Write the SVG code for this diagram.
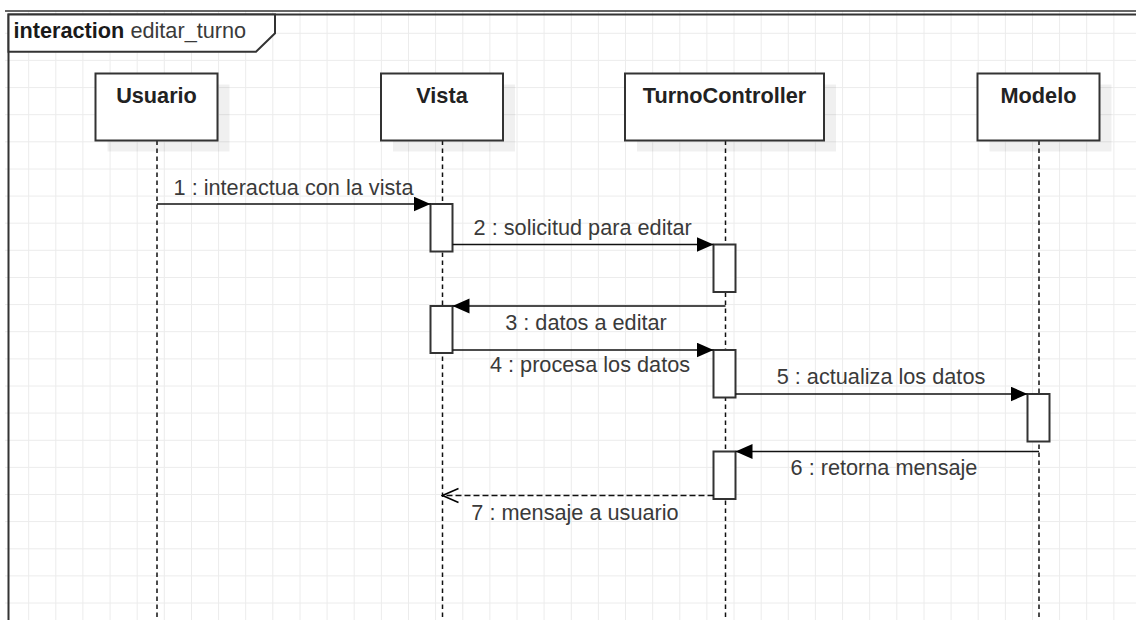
<svg xmlns="http://www.w3.org/2000/svg" width="1136" height="620" viewBox="0 0 1136 620">
<defs>
<style>
.grid{stroke:#ececec;stroke-width:1;fill:none}
.box{fill:#fff;stroke:#333;stroke-width:2}
.shadow{fill:#000;opacity:0.06}
.act{fill:#fff;stroke:#333;stroke-width:2}
.life{stroke:#111;stroke-width:1.5;stroke-dasharray:4.5 3.5;fill:none}
.msg{stroke:#111;stroke-width:1.5;fill:none}
.ret{stroke:#111;stroke-width:1.5;fill:none;stroke-dasharray:6 3}
.nl{font-family:"Liberation Sans",Arial,sans-serif;font-size:21.7px;font-weight:bold;fill:#222;text-anchor:middle}
.ml{font-family:"Liberation Sans",Arial,sans-serif;font-size:21.7px;fill:#3a3a3a;text-anchor:middle}
.fl{font-family:"Liberation Sans",Arial,sans-serif;font-size:21.7px;fill:#3a3a3a}
</style>
<marker id="fill" markerUnits="userSpaceOnUse" markerWidth="18" markerHeight="16" refX="17" refY="7.5" orient="auto">
<path d="M0,0 L17,7.5 L0,15 z" fill="#000"/>
</marker>
<marker id="open" markerUnits="userSpaceOnUse" markerWidth="19" markerHeight="18" refX="17" refY="8" orient="auto">
<path d="M1,1 L17,8 L1,15" fill="none" stroke="#000" stroke-width="1.5"/>
</marker>
<clipPath id="gclip"><rect x="5" y="11" width="1131" height="609"/></clipPath>
</defs>
<rect width="1136" height="620" fill="#fff"/>
<g id="grid" clip-path="url(#gclip)">
<path class="grid" d="M1.5,0V620M28.7,0V620M55.8,0V620M82.9,0V620M110.1,0V620M137.2,0V620M164.3,0V620M191.5,0V620M218.6,0V620M245.7,0V620M272.8,0V620M300,0V620M327.1,0V620M354.2,0V620M381.4,0V620M408.5,0V620M435.6,0V620M462.8,0V620M489.9,0V620M517,0V620M544.1,0V620M571.3,0V620M598.4,0V620M625.5,0V620M652.7,0V620M679.8,0V620M706.9,0V620M734,0V620M761.2,0V620M788.3,0V620M815.4,0V620M842.6,0V620M869.7,0V620M896.8,0V620M924,0V620M951.1,0V620M978.2,0V620M1005.4,0V620M1032.5,0V620M1059.6,0V620M1086.7,0V620M1113.9,0V620"/>
<path class="grid" d="M0,33.3H1136M0,60.4H1136M0,87.6H1136M0,114.7H1136M0,141.8H1136M0,169H1136M0,196.1H1136M0,223.2H1136M0,250.3H1136M0,277.5H1136M0,304.6H1136M0,331.7H1136M0,358.9H1136M0,386H1136M0,413.1H1136M0,440.3H1136M0,467.4H1136M0,494.5H1136M0,521.6H1136M0,548.8H1136M0,575.9H1136M0,603H1136"/>
</g>
<g id="frame">
<path d="M5,11H1136" stroke="#333" stroke-width="1.3" fill="none"/>
<path d="M8.5,620V14.5H1136" stroke="#333" stroke-width="2" fill="none"/>
<path d="M8.5,14.5H275V33.3L256,51.7H8.5z" fill="#fff" stroke="#333" stroke-width="2"/>
<text class="fl" x="13.5" y="37.5"><tspan font-weight="bold" fill="#1a1a1a">interaction</tspan> editar_turno</text>
</g>
<g id="lifelines">
<path class="life" d="M157,140.5V620"/>
<path class="life" d="M442.5,140.5V620"/>
<path class="life" d="M725.5,140.5V620"/>
<path class="life" d="M1039,140.5V620"/>
</g>
<g id="node-usuario">
<rect class="shadow" x="107.5" y="84.5" width="122" height="67"/>
<rect class="box" x="95.5" y="73.5" width="122" height="67"/>
<text class="nl" x="156.5" y="102.5">Usuario</text>
</g>
<g id="node-vista">
<rect class="shadow" x="393" y="84.5" width="122" height="67"/>
<rect class="box" x="381" y="73.5" width="122" height="67"/>
<text class="nl" x="442" y="102.5">Vista</text>
</g>
<g id="node-turnocontroller">
<rect class="shadow" x="637" y="84.5" width="199" height="67"/>
<rect class="box" x="625" y="73.5" width="199" height="67"/>
<text class="nl" x="724.5" y="102.5">TurnoController</text>
</g>
<g id="node-modelo">
<rect class="shadow" x="989.5" y="84.5" width="122" height="67"/>
<rect class="box" x="977.5" y="73.5" width="122" height="67"/>
<text class="nl" x="1038.5" y="102.5">Modelo</text>
</g>
<g id="activations">
<rect class="act" x="430.5" y="204" width="22" height="47.5"/>
<rect class="act" x="713.5" y="244.5" width="22" height="47.5"/>
<rect class="act" x="430.5" y="306" width="22" height="47"/>
<rect class="act" x="713.5" y="350" width="22" height="47.5"/>
<rect class="act" x="1027.5" y="394" width="22" height="47.5"/>
<rect class="act" x="713.5" y="451.5" width="22" height="47.5"/>
</g>
<g id="connectors">
<path class="msg" d="M157,204H430.5" marker-end="url(#fill)"/>
<path class="msg" d="M452.5,244.5H713.5" marker-end="url(#fill)"/>
<path class="msg" d="M725.5,306H452.5" marker-end="url(#fill)"/>
<path class="msg" d="M452.5,350H713.5" marker-end="url(#fill)"/>
<path class="msg" d="M735.5,394H1027.5" marker-end="url(#fill)"/>
<path class="msg" d="M1039,451.5H735.5" marker-end="url(#fill)"/>
<path class="ret" d="M713.5,495.5H442.5" marker-end="url(#open)"/>
<text class="ml" x="293.5" y="195">1 : interactua con la vista</text>
<text class="ml" x="582.7" y="235">2 : solicitud para editar</text>
<text class="ml" x="586" y="330">3 : datos a editar</text>
<text class="ml" x="590" y="371.5">4 : procesa los datos</text>
<text class="ml" x="881" y="384">5 : actualiza los datos</text>
<text class="ml" x="884" y="475">6 : retorna mensaje</text>
<text class="ml" x="575" y="520">7 : mensaje a usuario</text>
</g>
</svg>
